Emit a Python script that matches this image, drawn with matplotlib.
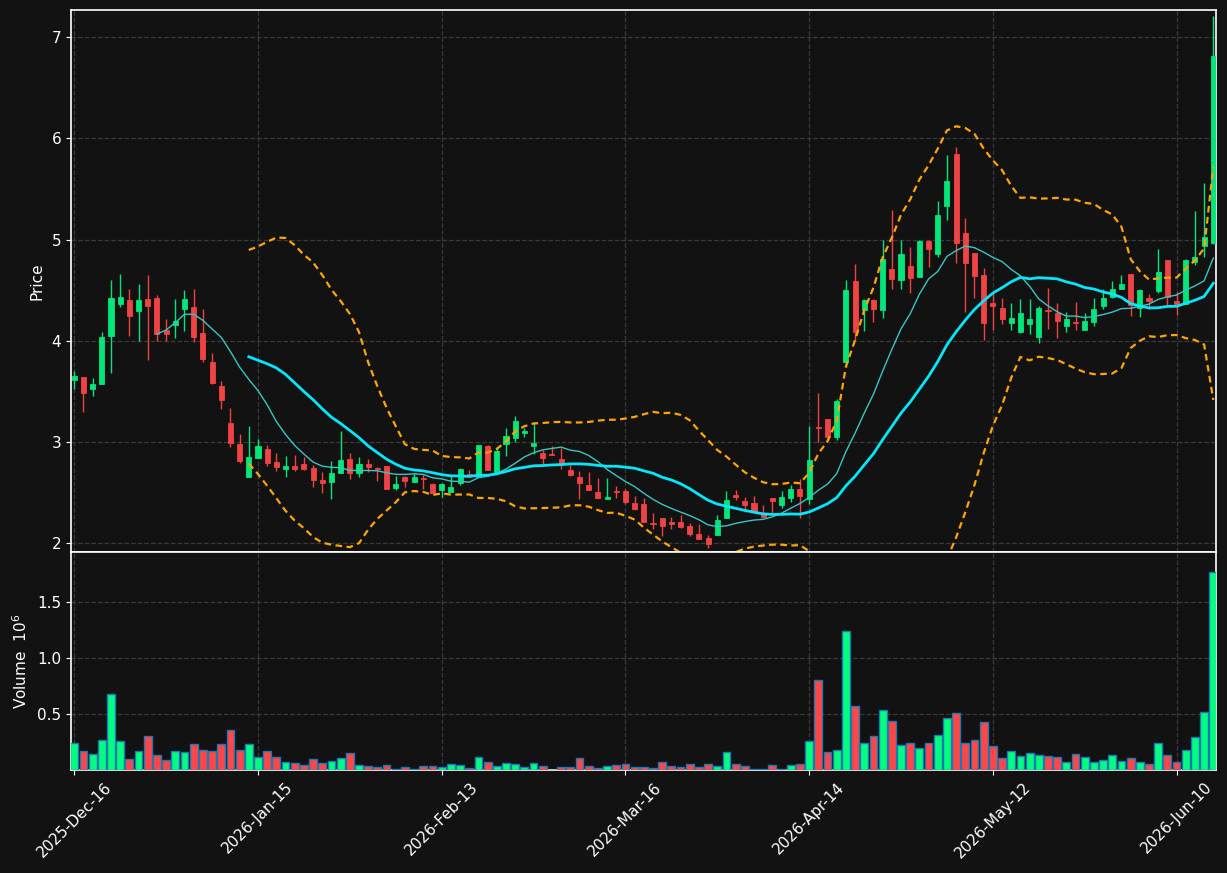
import matplotlib
matplotlib.use("Agg")
import matplotlib.pyplot as plt
import numpy as np
import pandas as pd

# daily OHLC, one row per trading day (index 0 = 2025-Dec-16)
opens = [3.61, 3.64, 3.52, 3.57, 4.05, 4.36, 4.40, 4.29, 4.41, 4.42,
         4.11, 4.15, 4.31, 4.33, 4.08, 3.79, 3.55, 3.19, 2.98, 2.65,
         2.84, 2.93, 2.80, 2.73, 2.76, 2.78, 2.74, 2.62, 2.60, 2.69,
         2.83, 2.69, 2.78, 2.74, 2.76, 2.54, 2.65, 2.60, 2.64, 2.58,
         2.52, 2.50, 2.59, 2.68, 2.65, 2.96, 2.70, 2.98, 3.04, 3.09,
         2.96, 2.89, 2.88, 2.83, 2.72, 2.65, 2.57, 2.50, 2.43, 2.51,
         2.51, 2.39, 2.38, 2.20, 2.25, 2.21, 2.21, 2.17, 2.09, 2.05,
         2.08, 2.25, 2.47, 2.41, 2.39, 2.29, 2.44, 2.37, 2.44, 2.53,
         2.43, 3.15, 3.23, 3.05, 3.79, 4.59, 4.30, 4.40, 4.30, 4.71,
         4.60, 4.74, 4.63, 4.99, 4.86, 5.33, 5.85, 5.06, 4.87, 4.65,
         4.37, 4.32, 4.17, 4.09, 4.16, 4.04, 4.30, 4.27, 4.14, 4.18,
         4.11, 4.18, 4.34, 4.43, 4.51, 4.66, 4.32, 4.42, 4.49, 4.80,
         4.39, 4.36, 4.78, 4.94, 4.97]
highs = [3.70, 3.64, 3.63, 4.09, 4.60, 4.66, 4.51, 4.56, 4.65, 4.45,
         4.21, 4.41, 4.50, 4.51, 4.31, 3.88, 3.60, 3.33, 3.08, 3.16,
         3.03, 2.97, 2.89, 2.86, 2.87, 2.85, 2.77, 2.70, 2.81, 3.11,
         2.89, 2.85, 2.83, 2.75, 2.76, 2.66, 2.66, 2.69, 2.67, 2.59,
         2.59, 2.66, 2.74, 2.72, 2.97, 2.97, 2.95, 3.14, 3.25, 3.14,
         3.20, 2.92, 2.96, 2.94, 2.77, 2.71, 2.70, 2.64, 2.64, 2.56,
         2.53, 2.46, 2.44, 2.30, 2.25, 2.26, 2.28, 2.20, 2.19, 2.08,
         2.28, 2.51, 2.52, 2.45, 2.46, 2.37, 2.44, 2.51, 2.57, 2.63,
         3.16, 3.48, 3.23, 3.42, 4.60, 4.76, 4.41, 4.41, 5.00, 5.29,
         5.00, 4.93, 5.00, 5.00, 5.38, 5.84, 5.91, 5.21, 4.87, 4.72,
         4.47, 4.42, 4.37, 4.41, 4.41, 4.34, 4.52, 4.37, 4.28, 4.38,
         4.27, 4.42, 4.51, 4.59, 4.65, 4.66, 4.51, 4.46, 4.91, 4.80,
         4.48, 4.81, 5.28, 5.56, 7.21]
lows = [3.52, 3.29, 3.45, 3.57, 3.68, 4.33, 4.05, 4.00, 3.81, 4.00,
        4.00, 4.03, 4.10, 3.99, 3.79, 3.57, 3.32, 2.95, 2.79, 2.65,
        2.84, 2.76, 2.71, 2.65, 2.71, 2.72, 2.55, 2.49, 2.43, 2.69,
        2.63, 2.65, 2.70, 2.61, 2.53, 2.52, 2.55, 2.60, 2.53, 2.49,
        2.45, 2.50, 2.57, 2.65, 2.65, 2.72, 2.70, 2.86, 3.00, 3.05,
        2.88, 2.78, 2.87, 2.73, 2.66, 2.43, 2.52, 2.44, 2.43, 2.44,
        2.38, 2.33, 2.21, 2.14, 2.07, 2.14, 2.15, 2.07, 2.04, 1.95,
        2.08, 2.25, 2.42, 2.31, 2.31, 2.26, 2.30, 2.35, 2.40, 2.25,
        2.38, 3.00, 3.02, 3.02, 3.74, 4.01, 4.10, 4.18, 4.22, 4.51,
        4.51, 4.47, 4.63, 4.73, 4.83, 5.19, 4.77, 4.28, 4.42, 4.01,
        4.11, 4.16, 4.11, 4.08, 4.07, 3.98, 4.12, 4.03, 4.09, 4.11,
        4.11, 4.14, 4.31, 4.42, 4.51, 4.24, 4.23, 4.31, 4.47, 4.34,
        4.25, 4.36, 4.75, 4.83, 4.96]
closes = [3.65, 3.48, 3.57, 4.04, 4.42, 4.43, 4.24, 4.40, 4.34, 4.07,
          4.07, 4.19, 4.41, 4.04, 3.82, 3.58, 3.41, 2.99, 2.81, 2.85,
          2.96, 2.79, 2.75, 2.76, 2.73, 2.73, 2.62, 2.59, 2.69, 2.82,
          2.69, 2.78, 2.75, 2.73, 2.53, 2.58, 2.61, 2.65, 2.63, 2.49,
          2.58, 2.55, 2.73, 2.66, 2.97, 2.72, 2.91, 3.06, 3.21, 3.11,
          2.99, 2.84, 2.87, 2.79, 2.67, 2.59, 2.52, 2.44, 2.45, 2.50,
          2.40, 2.34, 2.21, 2.19, 2.17, 2.19, 2.16, 2.09, 2.04, 1.99,
          2.23, 2.42, 2.45, 2.37, 2.32, 2.26, 2.41, 2.45, 2.53, 2.46,
          2.82, 3.14, 3.05, 3.40, 4.50, 4.09, 4.40, 4.31, 4.81, 4.61,
          4.86, 4.62, 4.99, 4.91, 5.24, 5.58, 4.97, 4.77, 4.64, 4.17,
          4.34, 4.21, 4.22, 4.27, 4.21, 4.32, 4.29, 4.19, 4.21, 4.17,
          4.19, 4.31, 4.42, 4.51, 4.56, 4.35, 4.50, 4.39, 4.68, 4.43,
          4.36, 4.80, 4.83, 5.02, 6.81]
# volume in millions
volumes = [0.240, 0.168, 0.141, 0.267, 0.682, 0.258, 0.096, 0.168, 0.303, 0.132,
           0.087, 0.168, 0.159, 0.231, 0.177, 0.168, 0.231, 0.357, 0.177, 0.231,
           0.114, 0.168, 0.114, 0.069, 0.060, 0.042, 0.096, 0.060, 0.078, 0.105,
           0.150, 0.042, 0.033, 0.024, 0.042, 0.012, 0.024, 0.012, 0.033, 0.033,
           0.024, 0.051, 0.042, 0.015, 0.114, 0.069, 0.033, 0.060, 0.051, 0.024,
           0.060, 0.033, 0.005, 0.024, 0.024, 0.105, 0.033, 0.015, 0.033, 0.042,
           0.051, 0.024, 0.024, 0.015, 0.069, 0.033, 0.024, 0.051, 0.024, 0.051,
           0.033, 0.159, 0.051, 0.033, 0.006, 0.006, 0.042, 0.006, 0.042, 0.051,
           0.258, 0.808, 0.159, 0.177, 1.240, 0.574, 0.240, 0.303, 0.538, 0.438,
           0.222, 0.240, 0.195, 0.240, 0.312, 0.465, 0.511, 0.240, 0.267, 0.429,
           0.213, 0.105, 0.168, 0.123, 0.150, 0.132, 0.123, 0.114, 0.069, 0.141,
           0.114, 0.069, 0.087, 0.132, 0.078, 0.105, 0.069, 0.051, 0.240, 0.132,
           0.069, 0.177, 0.294, 0.520, 1.772]
tick_labels = ["2025-Dec-16", "2026-Jan-15", "2026-Feb-13", "2026-Mar-16",
               "2026-Apr-14", "2026-May-12", "2026-Jun-10"]

BG = "#121212"
UP, DOWN = "#00e67a", "#f04343"
VUP, VDOWN = "#00ff80", "#ff4747"

df = pd.DataFrame({"o": opens, "h": highs, "l": lows, "c": closes, "v": volumes})
x = np.arange(len(df))
up = df.c >= df.o

mav10 = df.c.rolling(10).mean()
mav20 = df.c.rolling(20).mean()
sd20 = df.c.rolling(20).std()
bb_up = mav20 + 2 * sd20
bb_lo = mav20 - 2 * sd20

fig = plt.figure(figsize=(12.27, 8.73), dpi=100, facecolor=BG)
ax = fig.add_axes([0.0579, 0.3677, 0.9332, 0.6209], facecolor=BG)
axv = fig.add_axes([0.0579, 0.1180, 0.9332, 0.2497], facecolor=BG, sharex=ax)

# candles
ccol = np.where(up, UP, DOWN)
ax.vlines(x, df.l, df.h, colors=ccol, linewidth=1.0, zorder=2)
ax.bar(x, (df.c - df.o).abs(), bottom=np.minimum(df.o, df.c), width=0.55,
       color=ccol, edgecolor=ccol, linewidth=0.6, zorder=3)

ax.plot(x, mav10, color="#3cc4c4", linewidth=1.0, zorder=4)
ax.plot(x, mav20, color="#00e8ff", linewidth=2.0, zorder=4)
ax.plot(x, bb_up, color="#ffa500", linewidth=1.6, linestyle=(0, (3, 2)), zorder=4)
ax.plot(x, bb_lo, color="#ffa500", linewidth=1.6, linestyle=(0, (3, 2)), zorder=4)

# volume
vcol = np.where(up, VUP, VDOWN)
axv.bar(x, df.v, width=0.85, color=vcol, edgecolor="#1f77b4", linewidth=1.0, zorder=3)

ax.set_xlim(-0.35, len(df) - 0.7)
ax.set_ylim(1.91, 7.27)
axv.set_ylim(0.3 * df.v.min(), 1.1 * df.v.max())
axv.set_yticks([0.5, 1.0, 1.5])

ticks = np.arange(0, len(df), 20)
axv.set_xticks(ticks)
axv.set_xticklabels(tick_labels, rotation=45, ha="center")
ax.tick_params(axis="x", labelbottom=False, length=0)

for a in (ax, axv):
    a.grid(True, linestyle="--", color="#3a3a3a", linewidth=0.9)
    a.set_axisbelow(True)
    a.tick_params(colors="white", labelsize=11)
    for s in a.spines.values():
        s.set_color("white")
        s.set_linewidth(1.2)

ax.set_ylabel("Price", color="white", fontsize=11)
axv.set_ylabel("Volume  $10^{6}$", color="white", fontsize=11)
ax.yaxis.set_label_coords(-0.023, 0.5)
axv.yaxis.set_label_coords(-0.036, 0.5)

fig.savefig("out.png", dpi=100, facecolor=BG)
